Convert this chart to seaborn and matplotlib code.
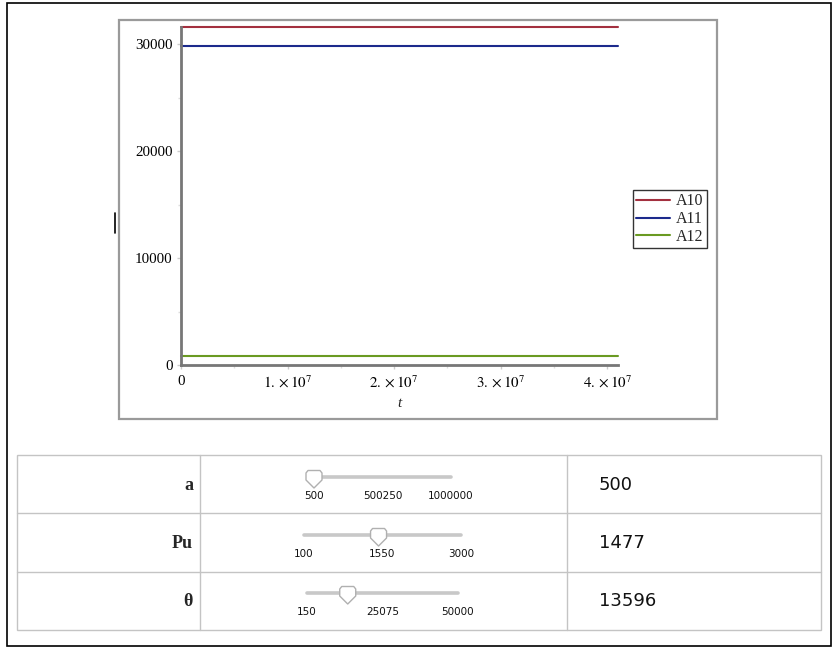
import numpy as np
import pandas as pd
import matplotlib
matplotlib.use("Agg")
import matplotlib.pyplot as plt
from matplotlib.patches import Rectangle, Polygon
from matplotlib.ticker import MultipleLocator
from matplotlib.lines import Line2D
import seaborn as sns

# ---------------- data ----------------
t_values = [0, 4.1e7]
series_names = ["A10", "A11", "A12"]
A10 = [31600, 31600]
A11 = [29800, 29800]
A12 = [800, 800]
series_colors = ["#a3303f", "#1c2a8c", "#6a9a22"]

xtick_values = [0, 1e7, 2e7, 3e7, 4e7]
xtick_labels = ["0", r"$1.\times10^{7}$", r"$2.\times10^{7}$", r"$3.\times10^{7}$", r"$4.\times10^{7}$"]
ytick_values = [0, 10000, 20000, 30000]
ytick_labels = ["0", "10000", "20000", "30000"]

param_names = ["a", "Pu", "θ"]
param_min = [500, 100, 150]
param_max = [1000000, 3000, 50000]
param_value = [500, 1477, 13596]
param_mid_labels = ["500250", "1550", "25075"]

# ---------------- setup ----------------
sns.set_theme(style="white")
plt.rcParams["font.family"] = ["Liberation Serif", "DejaVu Serif"]
plt.rcParams["mathtext.fontset"] = "stix"

W, H = 839, 653
fig = plt.figure(figsize=(W / 100, H / 100), dpi=100)
fig.patch.set_facecolor("white")

def fx(px):
    return px / W

def fy(py):
    return 1 - py / H

# overlay axes in pixel coordinates for the frame, table and sliders
ov = fig.add_axes([0, 0, 1, 1])
ov.set_xlim(0, W)
ov.set_ylim(H, 0)
ov.axis("off")
ov.patch.set_alpha(0)

# outer border and plot frame
ov.add_patch(Rectangle((7, 3), 824, 643, fill=False, ec="black", lw=1.2))
ov.add_patch(Rectangle((119, 20), 598, 399, fill=False, ec="#9a9a9a", lw=1.6))
ov.plot([115, 115], [213, 233], color="black", lw=1.2)

# ---------------- main plot ----------------
ax = fig.add_axes([fx(181), fy(365), fx(618) - fx(181), fy(27) - fy(365)])
ax.patch.set_alpha(0)

df = pd.DataFrame({
    "t": t_values * 3,
    "value": A10 + A11 + A12,
    "series": [series_names[0]] * 2 + [series_names[1]] * 2 + [series_names[2]] * 2,
})
sns.lineplot(data=df, x="t", y="value", hue="series", palette=series_colors,
             ax=ax, lw=1.5, legend=False)
for ln in ax.lines:
    ln.set_clip_on(False)

ax.set_xlim(0, 4.1e7)
ax.set_ylim(0, 31600)
ax.set_xticks(xtick_values)
ax.set_xticklabels(xtick_labels)
ax.set_yticks(ytick_values)
ax.set_yticklabels(ytick_labels)
ax.xaxis.set_minor_locator(MultipleLocator(5e6))
ax.yaxis.set_minor_locator(MultipleLocator(5000))
for s in ["top", "right"]:
    ax.spines[s].set_visible(False)
for s in ["left", "bottom"]:
    ax.spines[s].set_color("#777777")
    ax.spines[s].set_linewidth(2)
ax.tick_params(axis="both", which="major", direction="out", length=3, width=1,
               color="#cccccc", labelsize=10.8, labelcolor="black", pad=3)
ax.tick_params(axis="both", which="minor", direction="out", length=2, width=1,
               color="#dddddd")
ax.tick_params(axis="x", which="major", pad=4)
ax.tick_params(left=True, bottom=True)
ax.tick_params(which="minor", left=True, bottom=True)
ax.set_xlabel("t", fontstyle="italic", fontsize=11, labelpad=4)
ax.set_ylabel("")
ax.grid(False)

handles = [Line2D([0], [0], color=c, lw=1.5) for c in series_colors]
fig.legend(handles, series_names, loc="upper left",
           bbox_to_anchor=(fx(633), fy(190)), fontsize=11.5, frameon=True,
           fancybox=False, edgecolor="#333333", framealpha=1,
           borderpad=0.2, labelspacing=0.12, handlelength=2.1,
           handletextpad=0.4, borderaxespad=0)
leg = fig.legends[0]
leg.get_frame().set_linewidth(1.0)

# ---------------- table with sliders ----------------
grid_col = "#c4c4c4"
tx0, tx1, ty0 = 17, 821, 455
row_h = 58
col1, col2 = 200, 567
nrows = len(param_names)
ov.add_patch(Rectangle((tx0, ty0), tx1 - tx0, row_h * nrows + 1, fill=False, ec=grid_col, lw=1))
for i in range(1, nrows):
    y = ty0 + i * row_h + (1 if i == 2 else 0)
    ov.plot([tx0, tx1], [y, y], color=grid_col, lw=1)
for x in [col1, col2]:
    ov.plot([x, x], [ty0, ty0 + row_h * nrows + 1], color=grid_col, lw=1)

track_left = [314, 304, 307]
track_right = [451, 461, 458]
for i, name in enumerate(param_names):
    yc = ty0 + i * row_h + 29
    ov.text(193, yc + 1, name, ha="right", va="center", fontsize=13, fontweight="bold",
            family=["Liberation Serif", "DejaVu Serif"])
    ty = ty0 + i * row_h + 22
    xl, xr = track_left[i], track_right[i]
    ov.plot([xl, xr], [ty, ty], color="#c8c8c8", lw=2.6, solid_capstyle="round")
    frac = (param_value[i] - param_min[i]) / (param_max[i] - param_min[i])
    xt = xl + frac * (xr - xl)
    thumb = Polygon([(xt - 8, ty - 4), (xt - 6, ty - 6.5), (xt + 6, ty - 6.5), (xt + 8, ty - 4),
                     (xt + 8, ty + 3), (xt, ty + 11), (xt - 8, ty + 3)], closed=True,
                    fc="white", ec="#b0b0b0", lw=1, joinstyle="round", zorder=5)
    ov.add_patch(thumb)
    ly = ty0 + i * row_h + 41
    labs = [f"{param_min[i]}", param_mid_labels[i], f"{param_max[i]}"]
    for x, lab in zip([xl, (xl + xr) / 2, xr], labs):
        ov.text(x, ly, lab, ha="center", va="center", fontsize=7.5,
                family=["DejaVu Sans"], color="#111111")
    ov.text(599, yc + 1, f"{param_value[i]}", ha="left", va="center", fontsize=13,
            family=["DejaVu Sans"], color="#111111")

fig.savefig("out.png", dpi=100, facecolor="white")
